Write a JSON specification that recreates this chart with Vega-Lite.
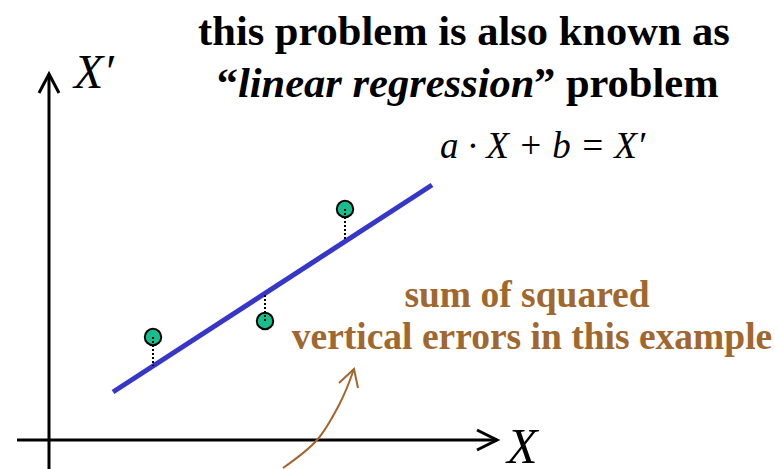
{
  "$schema": "https://vega.github.io/schema/vega-lite/v6.json",
  "width": 775,
  "height": 469,
  "autosize": {"type": "none"},
  "padding": 0,
  "background": "white",
  "config": {"view": {"stroke": null}},
  "datasets": {
    "axes": [
      {"id": "yaxis", "o": 1, "x": 0, "y": -29},
      {"id": "yaxis", "o": 2, "x": 0, "y": 366},
      {"id": "yhead", "o": 1, "x": -10, "y": 347},
      {"id": "yhead", "o": 2, "x": 0, "y": 366},
      {"id": "yhead", "o": 3, "x": 10, "y": 347},
      {"id": "xaxis", "o": 1, "x": -32, "y": 0},
      {"id": "xaxis", "o": 2, "x": 448, "y": 0},
      {"id": "xhead", "o": 1, "x": 428, "y": 10},
      {"id": "xhead", "o": 2, "x": 448, "y": 0},
      {"id": "xhead", "o": 3, "x": 428, "y": -10}
    ],
    "fit": [
      {"x": 64, "y": 48},
      {"x": 383, "y": 255}
    ],
    "points": [
      {"x": 104, "y": 103},
      {"x": 216, "y": 119},
      {"x": 296, "y": 231}
    ],
    "residuals": [
      {"id": 1, "x": 104, "y": 103},
      {"id": 1, "x": 104, "y": 74},
      {"id": 2, "x": 216, "y": 119},
      {"id": 2, "x": 216, "y": 147},
      {"id": 3, "x": 296, "y": 231},
      {"id": 3, "x": 296, "y": 199}
    ],
    "curve": [
      {"o": 1, "x": 234, "y": -28},
      {"o": 2, "x": 268, "y": 0},
      {"o": 3, "x": 291, "y": 37},
      {"o": 4, "x": 305, "y": 71}
    ],
    "curvehead": [
      {"o": 1, "x": 290, "y": 57},
      {"o": 2, "x": 305, "y": 71},
      {"o": 3, "x": 309, "y": 52}
    ]
  },
  "encoding": {
    "x": {"field": "x", "type": "quantitative", "axis": null, "scale": {"domain": [-49, 726], "nice": false, "zero": false}},
    "y": {"field": "y", "type": "quantitative", "axis": null, "scale": {"domain": [-29, 440], "nice": false, "zero": false}}
  },
  "layer": [
    {
      "data": {"name": "axes"},
      "mark": {"type": "line", "color": "black", "strokeWidth": 3, "strokeJoin": "miter", "strokeCap": "butt"},
      "encoding": {"detail": {"field": "id"}, "order": {"field": "o"}}
    },
    {
      "data": {"name": "curve"},
      "mark": {"type": "line", "color": "#A0672F", "strokeWidth": 2, "interpolate": "cardinal"},
      "encoding": {"order": {"field": "o"}}
    },
    {
      "data": {"name": "curvehead"},
      "mark": {"type": "line", "color": "#A0672F", "strokeWidth": 2},
      "encoding": {"order": {"field": "o"}}
    },
    {
      "data": {"name": "fit"},
      "mark": {"type": "line", "color": "#3636C8", "strokeWidth": 5, "strokeCap": "butt"},
      "encoding": {}
    },
    {
      "data": {"name": "points"},
      "mark": {"type": "point", "shape": "circle", "filled": true, "fill": "#17BF8C", "stroke": "black", "strokeWidth": 2, "size": 270, "opacity": 1}
    },
    {
      "data": {"name": "residuals"},
      "mark": {"type": "line", "color": "black", "strokeWidth": 2, "strokeDash": [2, 2]},
      "encoding": {"detail": {"field": "id"}}
    },
    {
      "data": {"values": [{"x": 25, "y": 352, "t": "X′"}]},
      "mark": {"type": "text", "align": "left", "baseline": "alphabetic", "font": "Liberation Serif", "fontStyle": "italic", "fontSize": 48, "color": "black"},
      "encoding": {"text": {"field": "t"}}
    },
    {
      "data": {"values": [{"x": 458, "y": -23, "t": "X"}]},
      "mark": {"type": "text", "align": "left", "baseline": "alphabetic", "font": "Liberation Serif", "fontStyle": "italic", "fontSize": 50, "color": "black"},
      "encoding": {"text": {"field": "t"}}
    },
    {
      "data": {"values": [{"x": 391, "y": 282, "t": "a · X + b = X′"}]},
      "mark": {"type": "text", "align": "left", "baseline": "alphabetic", "font": "Liberation Serif", "fontStyle": "italic", "fontSize": 37, "color": "black"},
      "encoding": {"text": {"field": "t"}}
    },
    {
      "data": {"values": [{"x": 415, "y": 395, "t": "this problem is also known as"}]},
      "mark": {"type": "text", "align": "center", "baseline": "alphabetic", "font": "Liberation Serif", "fontWeight": "bold", "fontSize": 42.5, "color": "black"},
      "encoding": {"text": {"field": "t"}}
    },
    {
      "data": {"values": [{"x": 189, "y": 343, "t": "“"}]},
      "mark": {"type": "text", "align": "right", "baseline": "alphabetic", "font": "Liberation Serif", "fontWeight": "bold", "fontSize": 42.5, "color": "black"},
      "encoding": {"text": {"field": "t"}}
    },
    {
      "data": {"values": [{"x": 189, "y": 343, "t": "linear regression"}]},
      "mark": {"type": "text", "align": "left", "baseline": "alphabetic", "font": "Liberation Serif", "fontWeight": "bold", "fontStyle": "italic", "fontSize": 42.5, "color": "black"},
      "encoding": {"text": {"field": "t"}}
    },
    {
      "data": {"values": [{"x": 485, "y": 343, "t": "” problem"}]},
      "mark": {"type": "text", "align": "left", "baseline": "alphabetic", "font": "Liberation Serif", "fontWeight": "bold", "fontSize": 42.5, "color": "black"},
      "encoding": {"text": {"field": "t"}}
    },
    {
      "data": {"values": [{"x": 478, "y": 133, "t": "sum of squared"}, {"x": 483, "y": 91, "t": "vertical errors in this example"}]},
      "mark": {"type": "text", "align": "center", "baseline": "alphabetic", "font": "Liberation Serif", "fontWeight": "bold", "fontSize": 37.5, "color": "#A0672F"},
      "encoding": {"text": {"field": "t"}}
    }
  ]
}
